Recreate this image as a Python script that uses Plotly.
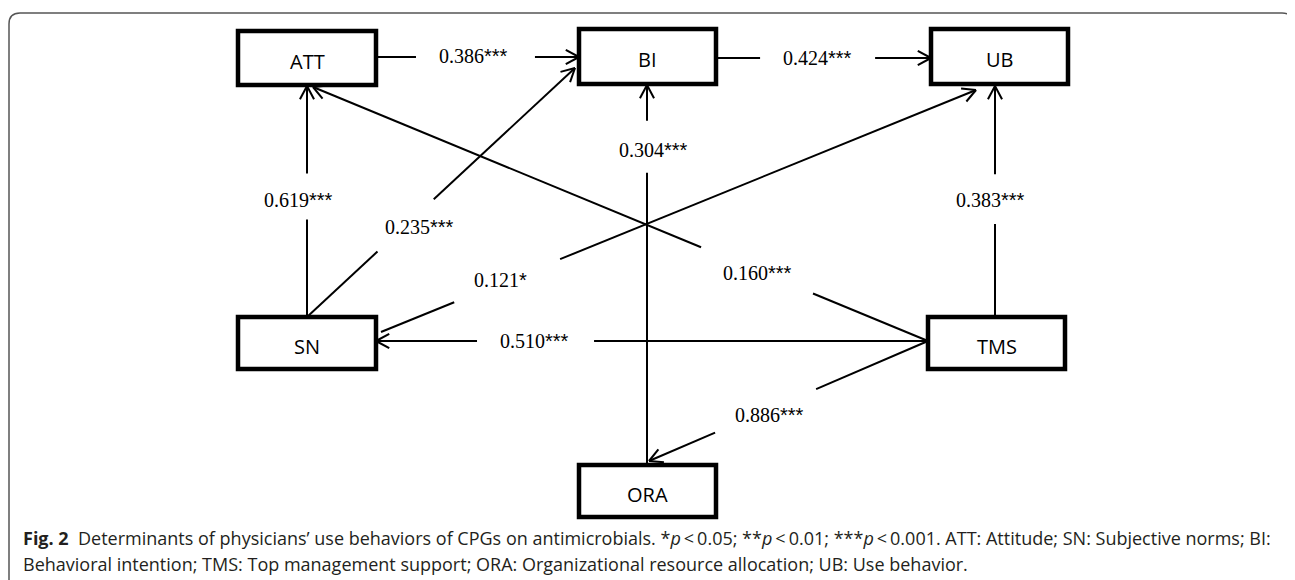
import numpy as np
import plotly.graph_objects as go

# ---------------- data ----------------
nodes = ["ATT", "BI", "UB", "SN", "TMS", "ORA"]
edge_source = ["ATT", "BI", "SN", "SN", "TMS", "TMS", "TMS", "ORA", "SN", "TMS"]
edge_target = ["BI", "UB", "ATT", "BI", "ATT", "SN", "ORA", "BI", "UB", "UB"]
coefficients = [0.386, 0.424, 0.619, 0.235, 0.160, 0.510, 0.886, 0.304, 0.121, 0.383]
significance = ["***", "***", "***", "***", "***", "***", "***", "***", "*", "***"]

caption_line1 = ("<b>Fig. 2</b>&nbsp;&nbsp;Determinants of physicians\u2019 use behaviors of CPGs on antimicrobials. "
                 "*<i>p</i>\u2009&lt;\u20090.05; **<i>p</i>\u2009&lt;\u20090.01; ***<i>p</i>\u2009&lt;\u20090.001. "
                 "ATT: Attitude; SN: Subjective norms; BI:")
caption_line2 = ("Behavioral intention; TMS: Top management support; ORA: Organizational resource allocation; "
                 "UB: Use behavior.")

# ---------------- layout (pixel geometry of the diagram) ----------------
W, H = 1295, 580
OFF = 8  # page body margin compensation
BOX = {  # x0, x1, y0, y1
    "ATT": (238, 376, 31, 85),
    "BI": (579, 716, 29, 84),
    "UB": (931, 1068, 29, 84),
    "SN": (238, 376, 317, 369),
    "TMS": (928, 1065, 317, 369),
    "ORA": (579, 716, 465, 517),
}
# start point, arrow tip, gap (fractions along the line), label centre
EDGE_GEOM = [
    ((376, 57), (579, 57), (0.197, 0.783), (473, 56)),
    ((716, 58), (931, 58), (0.205, 0.74), (817, 58)),
    ((307, 317), (307, 86), (0.422, 0.621), (298, 200)),
    ((307, 317), (575, 68), (0.263, 0.473), (419, 227)),
    ((928, 341), (313, 87), (0.187, 0.369), (757, 273)),
    ((928, 341), (376, 341), (0.605, 0.817), (534, 341)),
    ((928, 341), (649, 461), (0.401, 0.763), (769, 415)),
    ((647, 465), (647, 85), (0.769, 0.906), (653, 150)),
    ((381, 332), (976, 90), (0.123, 0.301), (500, 280)),
    ((995, 317), (995, 86), (0.403, 0.618), (990, 200)),
]
ARM = 15
HALF_ANGLE = np.radians(28)

fig = go.Figure()

# edges
lx, ly = [], []
for (p0, p1, gap, lab) in EDGE_GEOM:
    p0 = np.array(p0, float)
    p1 = np.array(p1, float)
    a = p0 + (p1 - p0) * gap[0]
    b = p0 + (p1 - p0) * gap[1]
    lx += [p0[0], a[0], None, b[0], p1[0], None]
    ly += [p0[1], a[1], None, b[1], p1[1], None]
    d = (p0 - p1) / np.linalg.norm(p0 - p1)
    for s in (1, -1):
        c, sn = np.cos(s * HALF_ANGLE), np.sin(s * HALF_ANGLE)
        r = np.array([d[0] * c - d[1] * sn, d[0] * sn + d[1] * c])
        q = p1 + r * ARM
        lx += [p1[0], q[0], None]
        ly += [p1[1], q[1], None]

fig.add_trace(go.Scatter(x=lx, y=ly, mode="lines", line=dict(color="black", width=2),
                         hoverinfo="skip", showlegend=False))

# boxes
for name in nodes:
    x0, x1, y0, y1 = BOX[name]
    fig.add_shape(type="rect", x0=x0, x1=x1, y0=y0, y1=y1, xref="x", yref="y",
                  line=dict(color="black", width=4.5), fillcolor="white", layer="above")
    fig.add_annotation(x=(x0 + x1) / 2, y=(y0 + y1) / 2 + 3, text=name, showarrow=False,
                       font=dict(family="Open Sans", size=20, color="black"))

# edge labels
for (geom, cval, sig) in zip(EDGE_GEOM, coefficients, significance):
    lab = geom[3]
    fig.add_annotation(x=lab[0], y=lab[1],
                       text=f"{cval:.3f}<span style='font-family:Liberation Sans'>{sig}</span>",
                       showarrow=False,
                       font=dict(family="Liberation Serif", size=20, color="black"))

# frame
fig.add_shape(type="path", xref="x", yref="y",
              path="M 9,600 L 9,24 Q 9,13 20,13 L 1282,13 Q 1293,13 1293,24 L 1293,600",
              line=dict(color="#555555", width=1.5))

# caption
fig.add_annotation(x=21, y=538, text=caption_line1, showarrow=False, xanchor="left",
                   font=dict(family="Open Sans", size=18, color="#231f20"))
fig.add_annotation(x=21, y=564, text=caption_line2, showarrow=False, xanchor="left",
                   font=dict(family="Open Sans", size=18, color="#231f20"))

fig.update_layout(
    width=W, height=H, margin=dict(l=0, r=0, t=0, b=0),
    plot_bgcolor="white", paper_bgcolor="white",
    xaxis=dict(range=[OFF, W + OFF], visible=False, fixedrange=True),
    yaxis=dict(range=[H + OFF, OFF], visible=False, fixedrange=True),
)
fig.write_html("out.html")
